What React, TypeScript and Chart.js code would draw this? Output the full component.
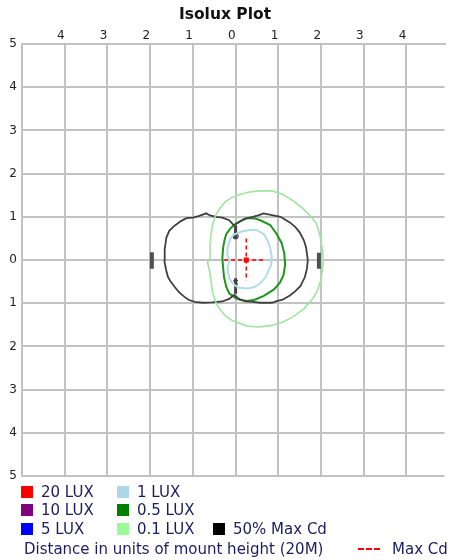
import React, { useEffect, useRef } from "react";
import { Chart, registerables } from "chart.js";

Chart.register(...registerables);

// ---------- data (units of mount height) ----------
const xTickValues = [-5, -4, -3, -2, -1, 0, 1, 2, 3, 4];
const yTickValues = [-5, -4, -3, -2, -1, 0, 1, 2, 3, 4, 5];

// 0.1 LUX contour
const lux01X = [-0.6, -0.6, -0.58, -0.53, -0.46, -0.35, -0.23, -0.08, 0.08, 0.3, 0.54, 0.85, 1.1, 1.35, 1.58, 1.75, 1.89, 1.98, 2.04, 2.05, 2.0, 1.92, 1.81, 1.6, 1.35, 1.1, 0.81, 0.54, 0.27, 0.08, -0.08, -0.23, -0.36, -0.46, -0.54, -0.58, -0.61, -0.66, -0.6];
const lux01Y = [0.0, 0.3, 0.58, 0.85, 1.05, 1.22, 1.36, 1.45, 1.51, 1.57, 1.6, 1.6, 1.52, 1.37, 1.19, 1.02, 0.85, 0.55, 0.2, -0.1, -0.45, -0.7, -0.89, -1.13, -1.31, -1.44, -1.52, -1.55, -1.53, -1.46, -1.4, -1.3, -1.15, -0.99, -0.75, -0.46, -0.25, -0.05, 0.0];

// 50% Max Cd contour
const cd50X = [-1.67, -1.66, -1.62, -1.55, -1.42, -1.28, -1.15, -1.0, -0.85, -0.69, -0.6, -0.45, -0.31, -0.15, -0.04, 0.08, 0.23, 0.4, 0.55, 0.65, 0.85, 1.05, 1.27, 1.4, 1.5, 1.6, 1.65, 1.69, 1.67, 1.62, 1.52, 1.4, 1.27, 1.1, 0.96, 0.85, 0.58, 0.4, 0.23, 0.08, -0.04, -0.15, -0.31, -0.55, -0.77, -0.96, -1.1, -1.19, -1.32, -1.42, -1.52, -1.58, -1.63, -1.67];
const cd50Y = [0.0, 0.25, 0.52, 0.68, 0.8, 0.9, 0.97, 0.98, 1.02, 1.08, 1.03, 1.0, 0.98, 0.92, 0.8, 0.88, 0.96, 1.0, 1.04, 1.08, 1.04, 1.0, 0.87, 0.76, 0.64, 0.45, 0.29, 0.0, -0.2, -0.4, -0.6, -0.72, -0.82, -0.92, -0.95, -0.99, -0.99, -0.97, -0.96, -0.9, -0.81, -0.9, -0.96, -0.98, -0.99, -0.97, -0.92, -0.86, -0.75, -0.63, -0.5, -0.4, -0.22, 0.0];

// 0.5 LUX contour
const lux05X = [-0.04, 0.15, 0.27, 0.45, 0.58, 0.81, 0.95, 1.08, 1.14, 1.16, 1.12, 1.04, 0.9, 0.66, 0.45, 0.27, 0.1, 0.0, -0.15, -0.22, -0.27, -0.29, -0.31, -0.29, -0.26, -0.22, -0.13, -0.04];
const lux05Y = [0.81, 0.92, 0.97, 0.96, 0.92, 0.81, 0.62, 0.39, 0.15, -0.11, -0.35, -0.52, -0.68, -0.83, -0.92, -0.95, -0.92, -0.88, -0.77, -0.62, -0.4, -0.2, 0.04, 0.3, 0.46, 0.6, 0.72, 0.81];

// 1 LUX contour
const lux1X = [0.04, 0.15, 0.35, 0.5, 0.66, 0.75, 0.81, 0.85, 0.83, 0.77, 0.7, 0.58, 0.45, 0.3, 0.1, 0.0, -0.1, -0.15, -0.19, -0.14, -0.19, -0.19, -0.12, -0.05, 0.04];
const lux1Y = [0.62, 0.66, 0.7, 0.69, 0.6, 0.45, 0.27, 0.05, -0.12, -0.25, -0.4, -0.54, -0.62, -0.66, -0.65, -0.6, -0.5, -0.42, -0.19, 0.0, 0.08, 0.27, 0.5, 0.58, 0.62];

// 50% Max Cd markers
const markTopX = [0.0, 0.0];
const markTopY = [0.8, 0.5];
const markBotX = [0.0, 0.0];
const markBotY = [-0.42, -0.78];
const markCircle = [0.0, 0.55];
const markCross = [0.0, -0.52];
const barLeftX = [-1.96, -1.96];
const barLeftY = [0.18, -0.2];
const barRightX = [1.95, 1.95];
const barRightY = [0.17, -0.2];

// Max Cd cross
const maxCdPoint = [0.25, 0.0];
const maxCdHX = [-0.27, 0.7];
const maxCdVY = [0.5, -0.48];

const legendItems = [
  { label: "20 LUX", color: "#ff0000" },
  { label: "1 LUX", color: "#add8e6" },
  null,
  { label: "10 LUX", color: "#800080" },
  { label: "0.5 LUX", color: "#008000" },
  null,
  { label: "5 LUX", color: "#0000ff" },
  { label: "0.1 LUX", color: "#98fb98" },
  { label: "50% Max Cd", color: "#000000" },
];

const toPts = (xs: number[], ys: number[]) => xs.map((x, i) => ({ x, y: ys[i] }));

const FONT = "'DejaVu Sans', Verdana, sans-serif";
const GRID = "#c2c2c2";

export default function App() {
  const ref = useRef<HTMLCanvasElement | null>(null);

  useEffect(() => {
    if (!ref.current) return;
    const line = (data: any[], color: string, width: number, extra: any = {}) => ({
      data,
      borderColor: color,
      backgroundColor: color,
      borderWidth: width,
      showLine: true,
      pointRadius: 0,
      fill: false,
      tension: 0,
      ...extra,
    });
    const chart = new Chart(ref.current, {
      type: "scatter",
      data: {
        datasets: [
          line(toPts(lux01X, lux01Y), "#9fe59f", 1.6),
          line(toPts(cd50X, cd50Y), "#404040", 1.8),
          line(toPts(lux05X, lux05Y), "#1e961e", 2),
          line(toPts(lux1X, lux1Y), "#b4dbe8", 2),
          line(toPts(markTopX, markTopY), "#404040", 3),
          line(toPts(markBotX, markBotY), "#404040", 3),
          {
            data: [{ x: markCircle[0], y: markCircle[1] }],
            showLine: false,
            pointStyle: "circle",
            pointRadius: 2.5,
            backgroundColor: "#ffffff",
            borderColor: "#404040",
            borderWidth: 1.2,
          },
          {
            data: [{ x: markCross[0], y: markCross[1] }],
            showLine: false,
            pointStyle: "crossRot",
            pointRadius: 3,
            backgroundColor: "#404040",
            borderColor: "#404040",
            borderWidth: 1.5,
          },
          line(toPts(barLeftX, barLeftY), "#505050", 4),
          line(toPts(barRightX, barRightY), "#505050", 4),
          line(
            [
              { x: maxCdHX[0], y: maxCdPoint[1] },
              { x: maxCdHX[1], y: maxCdPoint[1] },
            ],
            "#ff0000",
            1.5,
            { borderDash: [4, 3] }
          ),
          line(
            [
              { x: maxCdPoint[0], y: maxCdVY[0] },
              { x: maxCdPoint[0], y: maxCdVY[1] },
            ],
            "#ff0000",
            1.5,
            { borderDash: [4, 3] }
          ),
          {
            data: [{ x: maxCdPoint[0], y: maxCdPoint[1] }],
            showLine: false,
            pointStyle: "rect",
            pointRadius: 3.5,
            backgroundColor: "#ff0000",
            borderColor: "#ff0000",
            borderWidth: 0,
          },
        ],
      },
      options: {
        responsive: false,
        animation: false,
        devicePixelRatio: 1,
        layout: { padding: { left: 0, right: 0, top: 0, bottom: 14 } },
        plugins: {
          legend: { display: false },
          tooltip: { enabled: false },
          title: {
            display: true,
            text: "Isolux Plot",
            color: "#111",
            font: { family: FONT, size: 15.5, weight: "bold" },
            padding: { top: 6, bottom: 0 },
          },
        },
        scales: {
          x: {
            type: "linear",
            position: "top",
            min: -5,
            max: 4.89,
            afterBuildTicks: (s: any) => {
              s.ticks = xTickValues.map((v) => ({ value: v }));
            },
            afterFit: (s: any) => {
              s.height = 19.4;
            },
            ticks: {
              autoSkip: false,
              maxRotation: 0,
              align: "end",
              padding: 1,
              color: "#222",
              font: { family: FONT, size: 12 },
              callback: (v: any) => (v === -5 ? "" : String(Math.abs(v))),
            },
            grid: { color: GRID, lineWidth: 2, drawTicks: false },
            border: { display: true, color: GRID, width: 2 },
          },
          y: {
            type: "linear",
            min: -5,
            max: 5,
            afterBuildTicks: (s: any) => {
              s.ticks = yTickValues.map((v) => ({ value: v }));
            },
            afterFit: (s: any) => {
              s.width = 22;
            },
            ticks: {
              autoSkip: false,
              padding: 5,
              color: "#222",
              font: { family: FONT, size: 12 },
              callback: (v: any) => String(Math.abs(v)),
            },
            grid: { color: GRID, lineWidth: 2, drawTicks: false },
            border: { display: true, color: GRID, width: 2 },
          },
        },
      } as any,
    });
    return () => chart.destroy();
  }, []);

  const colX = [21, 117, 213];
  const rowY = [492, 510, 528.5];

  return (
    <div
      style={{
        position: "absolute",
        left: 0,
        top: 0,
        width: 450,
        height: 560,
        background: "#fff",
        overflow: "hidden",
        fontFamily: FONT,
      }}
    >
      <canvas ref={ref} width={450} height={490} style={{ display: "block", width: 450, height: 490 }} />
      {legendItems.map((it, i) =>
        it ? (
          <div
            key={i}
            style={{
              position: "absolute",
              left: colX[i % 3],
              top: rowY[Math.floor(i / 3)] - 9,
              height: 18,
              display: "flex",
              alignItems: "center",
              fontSize: 15,
              color: "#1c1c66",
              whiteSpace: "nowrap",
            }}
          >
            <span style={{ display: "inline-block", width: 12, height: 12, background: it.color, marginRight: 8 }} />
            <span>{it.label}</span>
          </div>
        ) : null
      )}
      <div
        style={{
          position: "absolute",
          left: 24,
          top: 540,
          height: 18,
          display: "flex",
          alignItems: "center",
          fontSize: 15,
          color: "#1c1c66",
          whiteSpace: "nowrap",
        }}
      >
        Distance in units of mount height (20M)
      </div>
      <div
        style={{
          position: "absolute",
          left: 358,
          top: 540,
          height: 18,
          display: "flex",
          alignItems: "center",
          fontSize: 15,
          color: "#1c1c66",
          whiteSpace: "nowrap",
        }}
      >
        <span
          style={{
            display: "inline-block",
            width: 22,
            height: 2,
            marginRight: 12,
            background: "repeating-linear-gradient(to right, #ff0000 0 6px, transparent 6px 8px)",
          }}
        />
        <span>Max Cd</span>
      </div>
    </div>
  );
}
